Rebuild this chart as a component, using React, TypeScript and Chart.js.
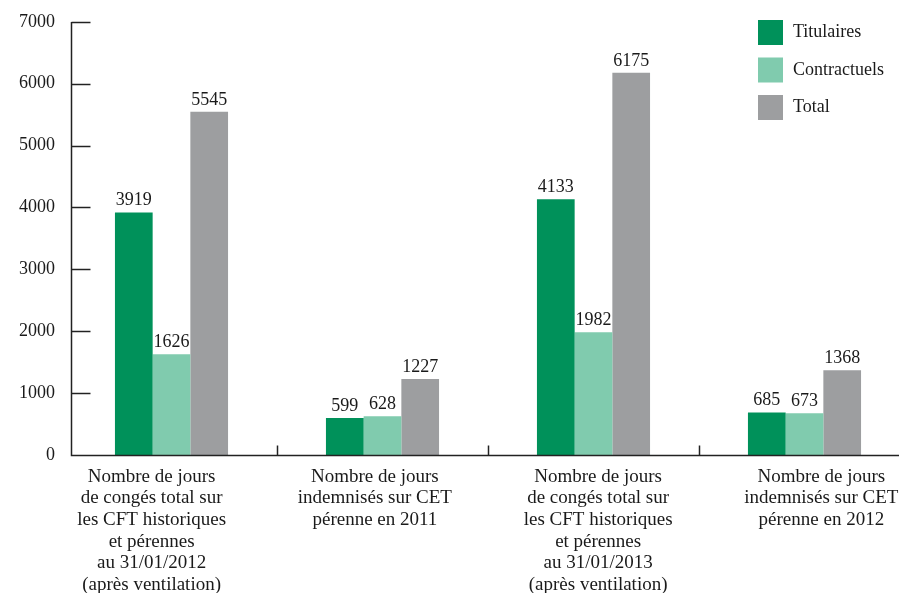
import React, { useEffect, useRef } from "react";
import { Chart, registerables } from "chart.js";

Chart.register(...registerables);

const categories: string[][] = [
  ["Nombre de jours", "de congés total sur", "les CFT historiques", "et pérennes", "au 31/01/2012", "(après ventilation)"],
  ["Nombre de jours", "indemnisés sur CET", "pérenne en 2011"],
  ["Nombre de jours", "de congés total sur", "les CFT historiques", "et pérennes", "au 31/01/2013", "(après ventilation)"],
  ["Nombre de jours", "indemnisés sur CET", "pérenne en 2012"],
];
const titulaires = [3919, 599, 4133, 685];
const contractuels = [1626, 628, 1982, 673];
const total = [5545, 1227, 6175, 1368];
const seriesNames = ["Titulaires", "Contractuels", "Total"];
const colors = ["#00915a", "#80cbae", "#9d9ea0"];
const yTicks = [0, 1000, 2000, 3000, 4000, 5000, 6000, 7000];

const FONT = "'Liberation Serif', 'DejaVu Serif', serif";
const AXIS_X = 71;
const LABEL_SPAN = { left: 40, right: 933 };

const decorPlugin = {
  id: "decor",
  afterLayout(chart: any) {
    const s = chart.scales.x2;
    if (s) {
      s.left = LABEL_SPAN.left;
      s.right = LABEL_SPAN.right;
      s.width = LABEL_SPAN.right - LABEL_SPAN.left;
      s.configure();
    }
  },
  afterDatasetsDraw(chart: any) {
    const ctx = chart.ctx;
    const area = chart.chartArea;
    const y = chart.scales.y;
    const x = chart.scales.x;
    ctx.save();
    ctx.strokeStyle = "#222";
    ctx.lineWidth = 1.5;
    const ax = AXIS_X + 0.5;
    const bottom = Math.round(area.bottom) + 0.5;
    // axis lines
    ctx.beginPath();
    ctx.moveTo(ax, Math.round(y.getPixelForValue(7000)));
    ctx.lineTo(ax, bottom);
    ctx.lineTo(area.right, bottom);
    ctx.stroke();
    // inward y ticks
    yTicks.forEach((v) => {
      if (v === 0) return;
      const py = Math.round(y.getPixelForValue(v)) + 0.5;
      ctx.beginPath();
      ctx.moveTo(ax, py);
      ctx.lineTo(ax + 19, py);
      ctx.stroke();
    });
    // category separators
    const n = categories.length;
    for (let i = 1; i < n; i++) {
      const px = Math.round((x.getPixelForValue(i - 1) + x.getPixelForValue(i)) / 2) + 0.5;
      ctx.beginPath();
      ctx.moveTo(px, bottom);
      ctx.lineTo(px, bottom - 10);
      ctx.stroke();
    }
    // value labels
    ctx.fillStyle = "#1a1a1a";
    ctx.font = `18px ${FONT}`;
    ctx.textAlign = "center";
    ctx.textBaseline = "middle";
    chart.data.datasets.forEach((ds: any, di: number) => {
      const meta = chart.getDatasetMeta(di);
      meta.data.forEach((bar: any, i: number) => {
        ctx.fillText(String(ds.data[i]), bar.x, bar.y - 12);
      });
    });
    // legend
    const lx = 758;
    chart.data.datasets.forEach((ds: any, di: number) => {
      const ty = 20 + di * 37.5;
      ctx.fillStyle = ds.backgroundColor;
      ctx.fillRect(lx, ty, 25, 25);
      ctx.fillStyle = "#1a1a1a";
      ctx.textAlign = "left";
      ctx.textBaseline = "middle";
      ctx.fillText(ds.label, lx + 35, ty + 12.5);
    });
    ctx.restore();
  },
};

export default function App() {
  const ref = useRef<HTMLCanvasElement | null>(null);
  useEffect(() => {
    document.body.style.margin = "0";
    const chart = new Chart(ref.current!, {
      type: "bar",
      data: {
        labels: categories,
        datasets: [titulaires, contractuels, total].map((d, i) => ({
          label: seriesNames[i],
          data: d,
          backgroundColor: colors[i],
          borderWidth: 0,
          barPercentage: 1,
          categoryPercentage: 0.536,
          xAxisID: "x",
        })),
      },
      options: {
        responsive: false,
        animation: false,
        layout: { padding: { top: 10, right: 0, left: 0, bottom: 0 } },
        plugins: { legend: { display: false }, tooltip: { enabled: false } },
        scales: {
          x: {
            type: "category",
            display: false,
          },
          x2: {
            type: "category",
            position: "bottom",
            labels: categories as any,
            grid: { display: false, drawTicks: false },
            border: { display: false },
            ticks: {
              color: "#1a1a1a",
              font: { family: FONT, size: 19, lineHeight: 1.14 },
              padding: 11,
              maxRotation: 0,
              autoSkip: false,
            },
            afterFit: (s: any) => {
              s.height = 138;
            },
          },
          y: {
            min: 0,
            max: 7000,
            afterBuildTicks: (s: any) => {
              s.ticks = yTicks.map((v) => ({ value: v }));
            },
            grid: { display: false, drawTicks: false },
            border: { display: false },
            ticks: {
              color: "#1a1a1a",
              font: { family: FONT, size: 18 },
              padding: 11,
              callback: (v: any) => String(v),
            },
            afterFit: (s: any) => {
              s.width = 66;
            },
          },
        },
      },
      plugins: [decorPlugin],
    });
    return () => chart.destroy();
  }, []);
  return (
    <div style={{ width: 899, height: 593, overflow: "hidden" }}>
      <canvas ref={ref} width={910} height={593} style={{ display: "block" }} />
    </div>
  );
}
